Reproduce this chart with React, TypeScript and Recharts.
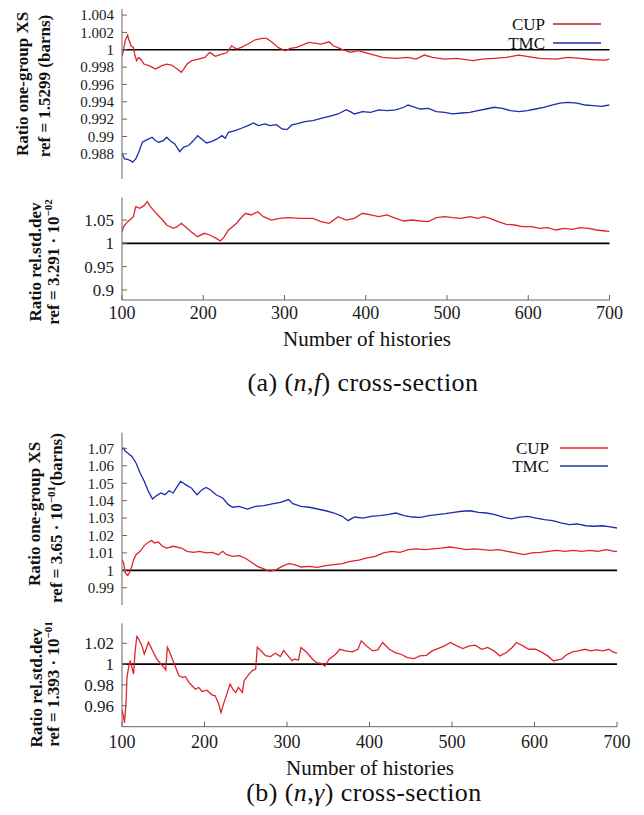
import React from 'react';
import { LineChart, Line, XAxis, YAxis, ReferenceLine } from 'recharts';

const histTicks = [100, 200, 300, 400, 500, 600, 700];

// (a) (n,f) one-group XS ratio
const nfXsTicks = [0.988, 0.99, 0.992, 0.994, 0.996, 0.998, 1, 1.002, 1.004];
const nfXsCupHist = [100,102,104,107,108,110,111,114,116,118,120,123,127,133,137,141,145,149,155,161,168,173,176,180,186,194,202,208,215,223,229,235,241,247,255,264,272,278,284,292,301,307,315,330,345,355,360,370,381,391,406,421,437,452,462,472,482,497,512,532,543,558,573,588,598,614,634,649,664,680,695,700];
const nfXsCup = [0.99931,1.0,1.0011,1.00169,1.00123,1.0008,1.00046,1.00027,0.99931,0.99874,0.9991,0.99893,0.99835,0.99816,0.998,0.99778,0.99797,0.99816,0.99835,0.99824,0.99778,0.9974,0.99778,0.99835,0.99874,0.99893,0.99912,0.9997,0.99924,0.99951,0.99965,1.00046,1.00008,1.00027,1.00066,1.00115,1.00131,1.00131,1.00092,1.00027,0.99989,1.00016,1.00027,1.00085,1.00066,1.00092,1.00046,1.00008,0.9997,0.99989,0.99951,0.99912,0.99901,0.99912,0.99893,0.99939,0.99912,0.99893,0.99901,0.99874,0.99893,0.99901,0.99912,0.99939,0.99924,0.99901,0.99893,0.99912,0.99901,0.99885,0.99881,0.99893];
const nfXsTmcHist = [100,103,107,111,113,117,121,125,131,137,141,145,151,155,159,165,171,176,182,188,193,198,204,210,217,223,227,231,239,247,255,262,268,276,282,290,297,303,309,315,325,335,345,355,366,376,381,386,396,406,416,426,437,447,452,457,467,477,487,497,507,518,528,538,548,558,568,578,589,599,609,619,629,639,649,660,670,680,690,700];
const nfXsTmc = [0.98811,0.98742,0.98735,0.9872,0.98704,0.98742,0.98826,0.98934,0.98964,0.98991,0.98953,0.98934,0.98953,0.98991,0.98953,0.98915,0.98826,0.98877,0.98896,0.98953,0.9901,0.98972,0.98926,0.98941,0.98972,0.9901,0.9898,0.99049,0.99068,0.99095,0.99125,0.99156,0.99125,0.99145,0.99125,0.99137,0.99087,0.99079,0.99133,0.99145,0.99171,0.99183,0.9921,0.99233,0.9926,0.9931,0.99286,0.9926,0.99286,0.99279,0.99306,0.99298,0.99306,0.99337,0.99363,0.99348,0.99317,0.99325,0.99286,0.99279,0.9926,0.99271,0.99279,0.99298,0.99317,0.99337,0.99325,0.99298,0.99286,0.99298,0.99317,0.99337,0.99363,0.99386,0.99394,0.99386,0.99363,0.99355,0.99348,0.99363];

// (a) (n,f) rel.std.dev ratio
const nfSdTicks = [0.9, 0.95, 1, 1.05];
const nfSdCupHist = [100,102,107,112,114,117,122,127,131,135,142,150,155,163,168,173,178,185,193,201,208,216,221,226,231,236,241,246,252,259,267,274,284,294,304,320,335,345,355,366,376,386,396,406,416,426,437,447,457,467,477,487,497,507,517,528,538,545,553,563,573,583,593,604,614,624,634,644,654,664,674,684,695,700];
const nfSdCup = [1.025,1.0358,1.0465,1.0537,1.0572,1.0787,1.0751,1.0808,1.0894,1.0787,1.0644,1.05,1.0393,1.0322,1.0358,1.0429,1.0358,1.025,1.0143,1.0215,1.0179,1.0107,1.005,1.0143,1.0286,1.0358,1.0429,1.0537,1.0644,1.0608,1.0679,1.0572,1.05,1.0537,1.0551,1.0537,1.0537,1.0465,1.0429,1.0572,1.05,1.0537,1.0644,1.0608,1.0572,1.0608,1.0537,1.0479,1.05,1.0479,1.0465,1.0551,1.0572,1.0551,1.0537,1.0572,1.0537,1.0572,1.0537,1.0465,1.0408,1.0393,1.0358,1.0358,1.0322,1.0336,1.0286,1.0322,1.03,1.0336,1.0322,1.0286,1.0265,1.025];

// (b) (n,gamma) one-group XS ratio
const ngXsTicks = [0.99, 1, 1.01, 1.02, 1.03, 1.04, 1.05, 1.06, 1.07];
const ngXsTmcHist = [100,102,104,107,112,117,122,127,132,137,142,147,152,157,162,167,171,177,184,191,197,202,207,214,222,229,234,242,252,262,272,282,292,302,307,317,327,337,347,357,367,374,382,392,402,412,422,432,442,452,462,472,482,492,502,512,522,532,542,552,562,572,582,592,602,612,622,632,642,652,662,672,682,692,700];
const ngXsTmc = [1.0692,1.0702,1.0683,1.0673,1.0654,1.0616,1.0559,1.0511,1.0453,1.041,1.0429,1.0444,1.0434,1.0457,1.0444,1.0482,1.0511,1.0492,1.0473,1.0434,1.0463,1.0476,1.0463,1.0434,1.0415,1.0377,1.0362,1.0367,1.0352,1.0367,1.0371,1.0381,1.039,1.0406,1.0383,1.0367,1.0362,1.0352,1.0342,1.0329,1.031,1.0285,1.0306,1.03,1.031,1.0314,1.032,1.0329,1.0314,1.0306,1.0304,1.0314,1.032,1.0325,1.0333,1.0339,1.0342,1.0333,1.0329,1.032,1.0306,1.0295,1.0306,1.031,1.03,1.0291,1.0285,1.0272,1.0262,1.0266,1.0256,1.0253,1.0256,1.0249,1.0243];
const ngXsCupHist = [100,102,104,107,109,112,114,117,122,127,132,136,139,144,149,154,162,172,179,187,194,202,209,217,222,227,234,242,249,257,264,272,279,287,294,302,309,317,327,337,347,357,367,377,387,397,407,417,427,437,447,457,467,477,487,497,507,517,527,537,547,557,567,577,587,597,607,617,627,637,647,657,667,677,687,697,700];
const ngXsCup = [1.0061,1.0042,0.9985,0.997,0.9985,1.0023,1.0061,1.009,1.0109,1.0142,1.0161,1.0172,1.0157,1.0163,1.0138,1.0128,1.0138,1.0128,1.0109,1.0103,1.0109,1.01,1.0103,1.009,1.0109,1.009,1.008,1.0084,1.0071,1.0046,1.0023,1.0008,0.9994,1.0004,1.0023,1.0038,1.0033,1.0019,1.0023,1.0017,1.0027,1.0033,1.0038,1.0052,1.0058,1.0071,1.008,1.01,1.0109,1.0103,1.0119,1.0123,1.0119,1.0123,1.0128,1.0134,1.0128,1.0119,1.0123,1.0119,1.0115,1.0119,1.0109,1.01,1.009,1.01,1.0103,1.0109,1.0115,1.0109,1.0115,1.0109,1.0115,1.0109,1.0119,1.0109,1.0109];

// (b) (n,gamma) rel.std.dev ratio
const ngSdTicks = [0.96, 0.98, 1, 1.02];
const ngSdCupHist = [100,102,103,105,106,108,110,112,114,116,118,120,124,127,130,132,136,138,142,147,151,153,155,157,161,165,169,173,177,181,185,189,193,197,203,209,213,217,220,223,227,231,235,238,241,246,248,254,258,262,264,268,274,280,286,292,296,300,306,309,314,317,324,331,336,341,346,351,359,364,371,379,386,390,396,404,410,416,424,431,438,446,454,461,469,476,483,491,498,506,513,521,528,536,543,551,558,566,573,578,586,593,601,608,616,623,628,633,638,646,653,661,668,675,683,690,695,700];
const ngSdCup = [0.9565,0.9484,0.9436,0.9646,0.9872,0.9969,1.0034,0.9969,0.9904,1.0131,1.0266,1.0244,1.0179,1.0098,1.0163,1.0211,1.0147,1.0114,1.005,1.0001,0.9969,0.9943,1.0163,1.0131,1.005,0.9969,0.9888,0.9872,0.9879,0.9824,0.9791,0.9759,0.9775,0.9736,0.9749,0.9704,0.9694,0.962,0.9533,0.9614,0.9711,0.9807,0.9749,0.9727,0.9775,0.9727,0.984,0.9904,0.9937,0.9953,1.0163,1.0131,1.0082,1.0072,1.0105,1.0072,1.0131,1.0092,1.0034,1.0047,1.004,1.016,1.0111,1.0047,1.0014,1.0008,0.9982,1.0047,1.0095,1.0143,1.0127,1.0118,1.0143,1.0224,1.0176,1.0127,1.0137,1.0208,1.0143,1.0111,1.0095,1.0063,1.0053,1.0079,1.0085,1.0127,1.015,1.0176,1.0208,1.0176,1.015,1.0176,1.0182,1.0143,1.016,1.0127,1.0079,1.0111,1.016,1.0208,1.0176,1.0143,1.0143,1.0118,1.0079,1.003,1.004,1.0047,1.0085,1.0118,1.0127,1.0143,1.0127,1.0137,1.0127,1.0143,1.0118,1.0105];

const RED = '#e3222b';
const BLUE = '#1d2bb0';
const FRAME = '#666';
const SERIF = 'Liberation Serif, serif';

const zip = (h: number[], v: number[]) => {
  const n = Math.min(h.length, v.length);
  const out: { h: number; v: number }[] = [];
  for (let i = 0; i < n; i++) out.push({ h: h[i], v: v[i] });
  return out;
};

const fmt = (t: number) => String(Number(t.toFixed(4)));

type SeriesDef = { name: string; hist: number[]; vals: number[]; color: string };

function Panel(props: {
  top: number;
  height: number;
  plotTop: number;
  plotBottom: number;
  plotRight: number;
  domain: [number, number];
  ticks: number[];
  series: SeriesDef[];
  showX: boolean;
  tickFont: number;
  xTickMargin: number;
}) {
  const { top, height, plotTop, plotBottom, plotRight, domain, ticks, series, showX, tickFont, xTickMargin } = props;
  const xH = showX ? 30 : 0;
  const margin = {
    top: plotTop - top,
    right: 644 - plotRight,
    left: 0,
    bottom: top + height - plotBottom - xH,
  };
  const tickStyle = { fontFamily: SERIF, fontSize: tickFont, fill: '#1a1a1a' };
  return (
    <div style={{ position: 'absolute', left: 0, top }}>
      <LineChart width={644} height={height} margin={margin}>
        <XAxis
          xAxisId="b"
          type="number"
          dataKey="h"
          domain={[100, 700]}
          ticks={histTicks}
          allowDataOverflow
          height={xH}
          tickSize={-5}
          tickMargin={xTickMargin}
          tick={showX ? { fontFamily: SERIF, fontSize: 18, fill: '#1a1a1a' } : false}
          axisLine={{ stroke: FRAME }}
          tickLine={{ stroke: FRAME }}
          interval={0}
        />
        <XAxis
          xAxisId="t"
          orientation="top"
          type="number"
          dataKey="h"
          domain={[100, 700]}
          ticks={histTicks}
          allowDataOverflow
          height={0}
          tickSize={-5}
          tick={false}
          axisLine={{ stroke: FRAME }}
          tickLine={{ stroke: FRAME }}
          interval={0}
        />
        <YAxis
          yAxisId="l"
          type="number"
          domain={domain}
          ticks={ticks}
          allowDataOverflow
          width={122}
          tickSize={-5}
          tickMargin={13}
          tickFormatter={fmt}
          tick={tickStyle}
          axisLine={{ stroke: FRAME }}
          tickLine={{ stroke: FRAME }}
          interval={0}
        />
        <YAxis
          yAxisId="r"
          orientation="right"
          type="number"
          domain={domain}
          ticks={ticks}
          allowDataOverflow
          width={0}
          tickSize={-5}
          tick={false}
          axisLine={{ stroke: FRAME }}
          tickLine={{ stroke: FRAME }}
          interval={0}
        />
        <ReferenceLine xAxisId="b" yAxisId="l" y={1} stroke="#000" strokeWidth={1.6} />
        {series.map((s) => (
          <Line
            key={s.name}
            xAxisId="b"
            yAxisId="l"
            data={zip(s.hist, s.vals)}
            dataKey="v"
            name={s.name}
            stroke={s.color}
            strokeWidth={1.3}
            dot={false}
            type="linear"
            isAnimationActive={false}
          />
        ))}
      </LineChart>
    </div>
  );
}

function Overlay() {
  const title = { fontFamily: SERIF, fontWeight: 700, fontSize: 17, fill: '#111' } as const;
  const leg = { fontFamily: SERIF, fontSize: 17, fill: '#111' } as const;
  const cap = { fontFamily: SERIF, fontSize: 26, fill: '#111', letterSpacing: 0.4 } as const;
  const rot = (x: number, y: number) => `translate(${x},${y}) rotate(-90)`;
  return (
    <svg
      width={644}
      height={815}
      style={{ position: 'absolute', left: 0, top: 0, pointerEvents: 'none' }}
    >
      {/* legends */}
      <text x={545} y={30} textAnchor="end" {...leg}>CUP</text>
      <line x1={553} x2={601} y1={24} y2={24} stroke="#b8202a" strokeWidth={1.6} />
      <text x={545} y={49} textAnchor="end" {...leg}>TMC</text>
      <line x1={553} x2={601} y1={43} y2={43} stroke={BLUE} strokeWidth={1.6} />

      <text x={549} y={454} textAnchor="end" {...leg}>CUP</text>
      <line x1={560} x2={608} y1={448} y2={448} stroke={RED} strokeWidth={1.6} />
      <text x={549} y={472} textAnchor="end" {...leg}>TMC</text>
      <line x1={560} x2={608} y1={466} y2={466} stroke="#2a3a8a" strokeWidth={1.6} />

      {/* y titles */}
      <text transform={rot(28, 84)} textAnchor="middle" {...title}>Ratio one-group XS</text>
      <text transform={rot(50, 86)} textAnchor="middle" {...title}>ref = 1.5299 (barns)</text>

      <text transform={rot(41, 262)} textAnchor="middle" {...title}>Ratio rel.std.dev</text>
      <text transform={rot(59, 262)} textAnchor="middle" {...title}>
        ref = 3.291 · 10<tspan dy={-7} fontSize={11}>−02</tspan>
      </text>

      <text transform={rot(40, 514)} textAnchor="middle" {...title}>Ratio one-group XS</text>
      <text transform={rot(62, 518)} textAnchor="middle" {...title}>
        ref = 3.65 · 10<tspan dy={-7} fontSize={11}>−01</tspan><tspan dy={7}>(barns)</tspan>
      </text>

      <text transform={rot(42, 688)} textAnchor="middle" {...title}>Ratio rel.std.dev</text>
      <text transform={rot(59, 684)} textAnchor="middle" {...title}>
        ref = 1.393 · 10<tspan dy={-7} fontSize={11}>−01</tspan>
      </text>

      {/* x titles */}
      <text x={367} y={346} textAnchor="middle" fontFamily={SERIF} fontSize={21} fill="#111">Number of histories</text>
      <text x={370} y={775} textAnchor="middle" fontFamily={SERIF} fontSize={21} fill="#111">Number of histories</text>

      {/* captions */}
      <text x={363} y={391} textAnchor="middle" {...cap}>
        (a) (<tspan fontStyle="italic">n</tspan>,<tspan fontStyle="italic">f</tspan>) cross-section
      </text>
      <text x={364} y={801} textAnchor="middle" {...cap}>
        (b) (<tspan fontStyle="italic">n</tspan>,<tspan fontStyle="italic">γ</tspan>) cross-section
      </text>
    </svg>
  );
}

export default function App() {
  return (
    <div style={{ position: 'absolute', left: 0, top: 0, width: 644, height: 815, background: '#fff', fontFamily: SERIF }}>
      <Panel
        top={0}
        height={190}
        plotTop={9}
        plotBottom={179}
        plotRight={609.5}
        domain={[0.9851, 1.0047]}
        ticks={nfXsTicks}
        tickFont={15}
        xTickMargin={11}
        showX={false}
        series={[
          { name: 'CUP', hist: nfXsCupHist, vals: nfXsCup, color: RED },
          { name: 'TMC', hist: nfXsTmcHist, vals: nfXsTmc, color: BLUE },
        ]}
      />
      <Panel
        top={190}
        height={170}
        plotTop={197.5}
        plotBottom={300}
        plotRight={609.5}
        domain={[0.8785, 1.0983]}
        ticks={nfSdTicks}
        tickFont={17}
        xTickMargin={11}
        showX={true}
        series={[{ name: 'CUP', hist: nfSdCupHist, vals: nfSdCup, color: RED }]}
      />
      <Panel
        top={420}
        height={195}
        plotTop={432.7}
        plotBottom={605}
        plotRight={617}
        domain={[0.9801, 1.079]}
        ticks={ngXsTicks}
        tickFont={15}
        xTickMargin={11}
        showX={false}
        series={[
          { name: 'CUP', hist: ngXsCupHist, vals: ngXsCup, color: RED },
          { name: 'TMC', hist: ngXsTmcHist, vals: ngXsTmc, color: BLUE },
        ]}
      />
      <Panel
        top={615}
        height={150}
        plotTop={623.3}
        plotBottom={726.7}
        plotRight={617}
        domain={[0.9397, 1.0393]}
        ticks={ngSdTicks}
        tickFont={17}
        xTickMargin={14}
        showX={true}
        series={[{ name: 'CUP', hist: ngSdCupHist, vals: ngSdCup, color: RED }]}
      />
      <Overlay />
    </div>
  );
}
